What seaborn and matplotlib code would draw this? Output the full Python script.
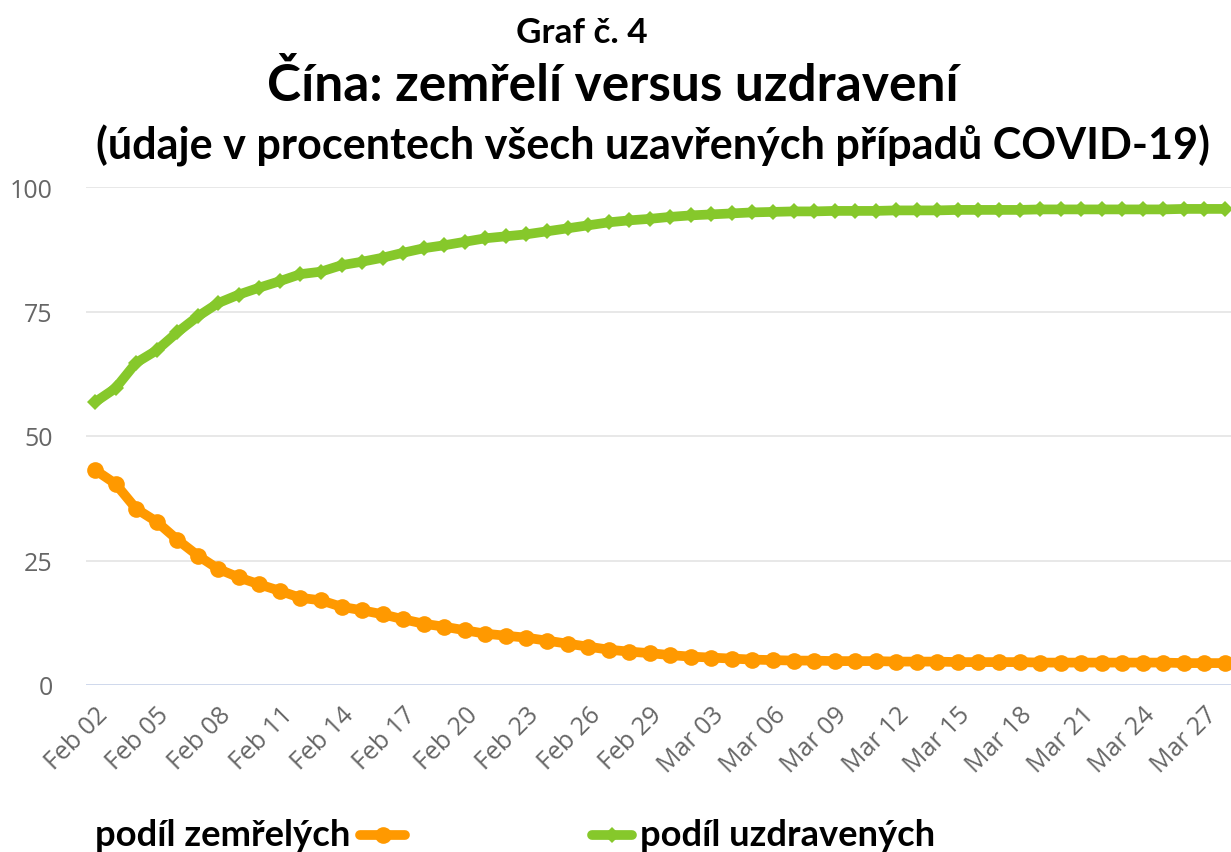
import matplotlib
matplotlib.use("Agg")
import matplotlib.pyplot as plt
import seaborn as sns
import pandas as pd
import numpy as np
from matplotlib.lines import Line2D

# ---- data ----
dates = pd.date_range("2020-02-02", "2020-03-28", freq="D")
recovered = [56.8, 59.6, 64.7, 67.2, 70.8, 74.0, 76.7, 78.4, 79.8, 81.1,
             82.5, 83.0, 84.3, 85.0, 85.8, 86.8, 87.7, 88.3, 89.0, 89.7,
             90.1, 90.5, 91.1, 91.7, 92.3, 92.9, 93.3, 93.6, 94.0, 94.3,
             94.5, 94.7, 94.9, 95.0, 95.1, 95.1, 95.2, 95.2, 95.2, 95.3,
             95.3, 95.3, 95.4, 95.4, 95.4, 95.4, 95.5, 95.5, 95.5, 95.5,
             95.5, 95.5, 95.5, 95.6, 95.6, 95.6]
deaths = [43.2, 40.4, 35.4, 32.8, 29.2, 26.0, 23.3, 21.6, 20.2, 18.9,
          17.5, 17.0, 15.7, 15.0, 14.2, 13.2, 12.3, 11.7, 11.0, 10.3,
          9.9, 9.5, 8.9, 8.3, 7.7, 7.1, 6.7, 6.4, 6.0, 5.7,
          5.5, 5.3, 5.1, 5.0, 4.9, 4.9, 4.8, 4.8, 4.8, 4.7,
          4.7, 4.7, 4.6, 4.6, 4.6, 4.6, 4.5, 4.5, 4.5, 4.5,
          4.5, 4.5, 4.5, 4.4, 4.4, 4.4]
tick_labels = ["Feb 02", "Feb 05", "Feb 08", "Feb 11", "Feb 14", "Feb 17",
               "Feb 20", "Feb 23", "Feb 26", "Feb 29", "Mar 03", "Mar 06",
               "Mar 09", "Mar 12", "Mar 15", "Mar 18", "Mar 21", "Mar 24",
               "Mar 27"]
y_ticks = [0, 25, 50, 75, 100]
series_names = ["podíl zemřelých", "podíl uzdravených"]

title1 = "Graf č. 4"
title2 = "Čína: zemřelí versus uzdravení"
title3 = "(údaje v procentech všech uzavřených případů COVID-19)"

ORANGE = "#ff9900"
GREEN = "#86c82b"
BOLD_FONT = ["Lato", "DejaVu Sans"]
AXIS_FONT = ["Open Sans", "DejaVu Sans"]

sns.set_theme(style="white")
plt.rcParams["font.family"] = ["Lato", "DejaVu Sans"]

W, H = 1231, 853
fig = plt.figure(figsize=(W / 100, H / 100), dpi=100)
renderer = fig.canvas.get_renderer()

def fx(px):
    return px / W

def fy(py):
    return 1 - py / H

def fit_text(px_left, px_right, py, s, ha="left", base=20):
    xpos = px_left if ha == "left" else (px_left + px_right) / 2
    t = fig.text(fx(xpos), fy(py), s, ha=ha, va="center", fontsize=base,
                 fontweight="bold", color="black", family=BOLD_FONT)
    w = t.get_window_extent(renderer).width
    t.set_fontsize(base * (px_right - px_left) / w)
    return t

# axes: left at px 86, right edge 1231, y=0 at 686, y=100 at 188
ax = fig.add_axes([fx(86), fy(686), fx(1231) - fx(86), fy(188) - fy(686)])

x = np.arange(len(dates))
df = pd.DataFrame({"day": x, "deaths": deaths, "recovered": recovered})

sns.lineplot(data=df, x="day", y="recovered", ax=ax, color=GREEN,
             linewidth=7, marker="D", markersize=8, markeredgewidth=0,
             clip_on=False, zorder=3)
sns.lineplot(data=df, x="day", y="deaths", ax=ax, color=ORANGE,
             linewidth=7, marker="o", markersize=12, markeredgewidth=0,
             clip_on=False, zorder=3)

px_per_day = (1225 - 95) / (len(dates) - 1)
ax.set_xlim(-(95 - 86) / px_per_day, (len(dates) - 1) + (1231 - 1225) / px_per_day)
ax.set_ylim(0, 100)

ax.set_yticks(y_ticks)
ax.set_yticklabels([str(v) for v in y_ticks], fontsize=18, color="#666666",
                   family=AXIS_FONT)
ax.set_xticks(x[::3])
ax.set_xticklabels(tick_labels, rotation=45, ha="right", va="top",
                   rotation_mode="anchor", fontsize=18, color="#666666",
                   family=AXIS_FONT)
ax.tick_params(axis="y", length=0, pad=24)
ax.tick_params(axis="x", length=0, pad=12)
ax.set_xlabel("")
ax.set_ylabel("")

for s in ax.spines.values():
    s.set_visible(False)
ax.grid(False)
for v in y_ticks:
    ax.axhline(v, color="#ccd6eb" if v == 0 else "#e6e6e6", linewidth=1.3,
               zorder=1)

# titles
fit_text(516, 648, 33, title1, ha="center")
fit_text(268, 958, 86, title2, ha="center")
fit_text(95, 1210, 146, title3, ha="center")

# legend
ly_px = 836
ly = fy(ly_px)
fit_text(95, 350, ly_px, series_names[0], ha="left")
fig.add_artist(Line2D([fx(360), fx(405)], [ly, ly], color=ORANGE, linewidth=7,
                      transform=fig.transFigure))
fig.add_artist(Line2D([fx(383)], [ly], color=ORANGE, marker="o", markersize=12,
                      markeredgewidth=0, transform=fig.transFigure))
fig.add_artist(Line2D([fx(592), fx(632)], [ly, ly], color=GREEN, linewidth=7,
                      transform=fig.transFigure))
fig.add_artist(Line2D([fx(612)], [ly], color=GREEN, marker="D", markersize=8,
                      markeredgewidth=0, transform=fig.transFigure))
fit_text(640, 935, ly_px, series_names[1], ha="left")

fig.savefig("out.png", dpi=100)
